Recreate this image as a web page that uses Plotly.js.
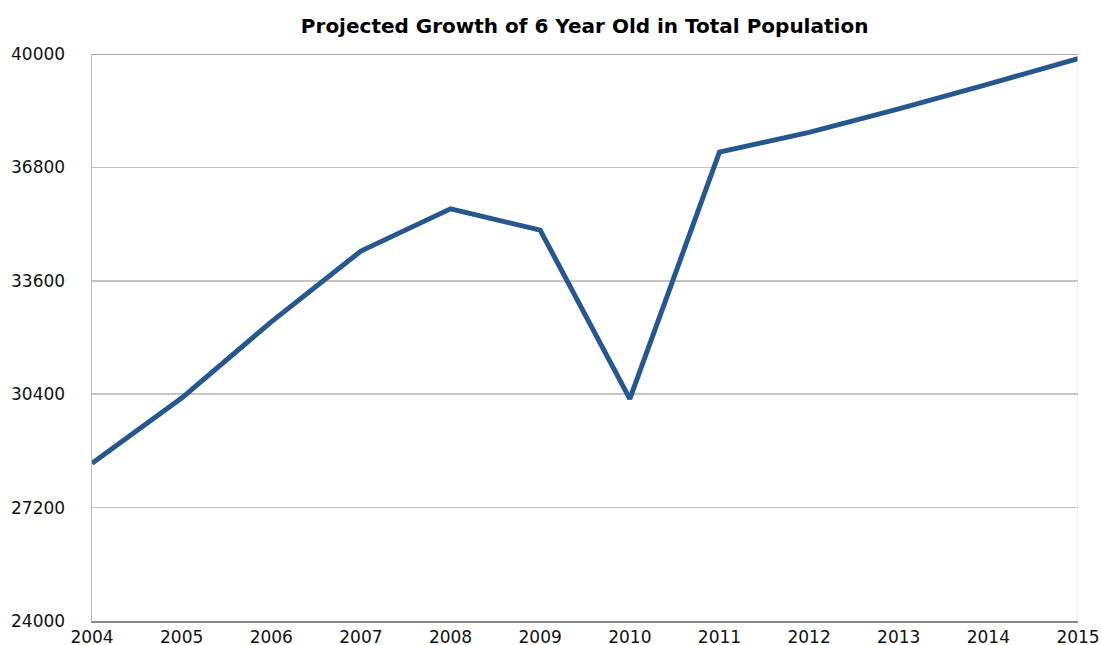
<!DOCTYPE html>
<html>
<head>
<meta charset="utf-8">
<script src="https://cdn.plot.ly/plotly-3.0.1.min.js"></script>
<style>html,body{margin:0;padding:0;background:#fff;}#chart{width:1101px;height:645px;}</style>
</head>
<body>
<div id="chart"></div>
<script>
const years = [2004, 2005, 2006, 2007, 2008, 2009, 2010, 2011, 2012, 2013, 2014, 2015];
const population = [28450, 30290, 32440, 34440, 35630, 35030, 30270, 37230, 37790, 38450, 39150, 39870];
const yTicks = [24000, 27200, 30400, 33600, 36800, 40000];
const chartTitle = "Projected Growth of 6 Year Old in Total Population";

const trace = {
  x: years,
  y: population,
  type: "scatter",
  mode: "lines",
  line: {color: "#27578f", width: 5},
  hoverinfo: "x+y"
};

const tickFont = {family: "DejaVu Sans, Verdana, sans-serif", size: 17, color: "#111"};

const layout = {
  width: 1101,
  height: 645,
  margin: {l: 92, r: 23, t: 54, b: 24},
  paper_bgcolor: "#ffffff",
  plot_bgcolor: "#ffffff",
  showlegend: false,
  title: {
    text: "<b>" + chartTitle + "</b>",
    x: 0.531, xanchor: "center",
    y: 0.959, yanchor: "middle",
    font: {family: "DejaVu Sans, Verdana, sans-serif", size: 20, color: "#000"}
  },
  xaxis: {
    range: [2004, 2015],
    tickvals: years,
    ticktext: years.map(String),
    showgrid: false,
    zeroline: false,
    showline: true,
    linecolor: "#8a8a8a",
    linewidth: 1.5,
    ticks: "",
    ticklen: 0,
    tickfont: tickFont,
    fixedrange: true
  },
  yaxis: {
    range: [24000, 40000],
    tickvals: yTicks,
    ticktext: yTicks.map(String),
    showgrid: true,
    gridcolor: "#c4c4c4",
    gridwidth: 1.5,
    zeroline: false,
    showline: true,
    linecolor: "#bdbdbd",
    linewidth: 1.5,
    ticks: "",
    ticklabelstandoff: 22,
    tickfont: tickFont,
    fixedrange: true
  },
  shapes: [
    {type: "line", xref: "paper", yref: "y", x0: 0, x1: 1, y0: 40000, y1: 40000,
     line: {color: "#8c8c8c", width: 1.5}},
    {type: "line", xref: "x", yref: "paper", x0: 2015, x1: 2015, y0: 0, y1: 1,
     line: {color: "#dcdcdc", width: 1}}
  ]
};

Plotly.newPlot("chart", [trace], layout, {displayModeBar: false, staticPlot: true});
</script>
</body>
</html>
